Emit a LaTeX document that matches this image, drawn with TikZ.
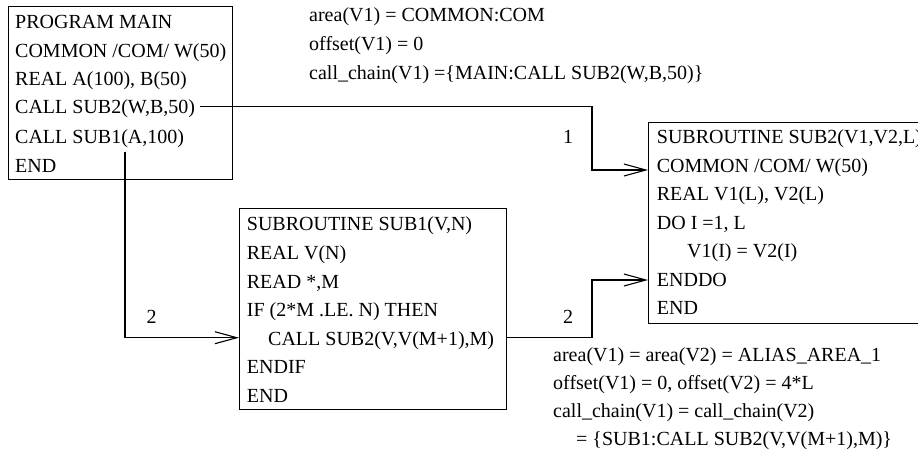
\documentclass[tikz,border=0pt]{standalone}
\usepackage{fontspec}
\setmainfont{Liberation Serif}
\usetikzlibrary{arrows.meta,calc}
\begin{document}
\begin{tikzpicture}[x=1pt,y=-1pt,
  txt/.style={anchor=base west, inner sep=0pt, font=\fontsize{20}{24}\selectfont},
  lbl/.style={inner sep=0pt, font=\fontsize{20}{24}\selectfont},
  codebox/.style={draw, line width=1.1pt, anchor=north west, inner sep=0pt},
  conn/.style={line width=1.1pt, -{Straight Barb[length=22pt,width=12pt,line width=1.1pt]}}]
\useasboundingbox (0,0) rectangle (918,450);
% boxes
\node[codebox, minimum width=224pt, minimum height=173pt] (main) at (8,6) {};
\node[codebox, minimum width=267pt, minimum height=201pt] (sub1) at (239,208.3) {};
\node[codebox, minimum width=300pt, minimum height=201pt] (sub2) at (648,121.7) {};
% main text
\node[txt] (m1) at (15,28) {PROGRAM MAIN};
\node[txt] (m2) at (15,57) {COMMON /COM/ W(50)};
\node[txt] (m3) at (15,85.5) {REAL A(100), B(50)};
\node[txt] (m4) at (15,113.5) {CALL SUB2(W,B,50)};
\node[txt] (m5) at (15,143) {CALL SUB1(A,100)};
\node[txt] (m6) at (15,172) {END};
% sub1 text
\node[txt] (a1) at (246.7,230) {SUBROUTINE SUB1(V,N)};
\node[txt] (a2) at (246.7,259.5) {REAL V(N)};
\node[txt] (a3) at (246.7,288) {READ *,M};
\node[txt] (a4) at (246.7,316.5) {IF (2*M .LE. N) THEN};
\node[txt] (a5) at (268,345) {CALL SUB2(V,V(M+1),M)};
\node[txt] (a6) at (246.7,373.5) {ENDIF};
\node[txt] (a7) at (246.7,402) {END};
% sub2 text
\node[txt] (b1) at (656.7,143.5) {SUBROUTINE SUB2(V1,V2,L)};
\node[txt] (b2) at (656.7,172) {COMMON /COM/ W(50)};
\node[txt] (b3) at (656.7,200.5) {REAL V1(L), V2(L)};
\node[txt] (b4) at (656.7,229) {DO I =1, L};
\node[txt] (b5) at (687,257.5) {V1(I) = V2(I)};
\node[txt] (b6) at (656.7,286) {ENDDO};
\node[txt] (b7) at (656.7,314.5) {END};
% annotations
\node[txt] (t1) at (309,21.5) {area(V1) = COMMON:COM};
\node[txt] (t2) at (309,50.5) {offset(V1) = 0};
\node[txt] (t3) at (309,79) {call\_chain(V1) =\{MAIN:CALL SUB2(W,B,50)\}};
\node[txt] (u1) at (553,361.5) {area(V1) = area(V2) = ALIAS\_AREA\_1};
\node[txt] (u2) at (553,389.5) {offset(V1) = 0, offset(V2) = 4*L};
\node[txt] (u3) at (553,417.5) {call\_chain(V1) = call\_chain(V2)};
\node[txt] (u4) at (576,445.5) {= \{SUB1:CALL SUB2(V,V(M+1),M)\}};
% labels
\node[lbl] (l1) at (568,137) {1};
\node[lbl] (l2) at (151.7,316.7) {2};
\node[lbl] (l3) at (568,316.7) {2};
% connector ends
\coordinate (c1s) at ($(m4.base east)+(5,-7)$);
\coordinate (c1e) at ($(sub2.north west)+(0,48.3)$);
\coordinate (c2s) at (125,151.7);
\coordinate (c2e) at ($(sub1.north west)+(0,129.4)$);
\coordinate (c3s) at ($(sub1.north east)+(0,129.4)$);
\coordinate (c3e) at ($(sub2.north west)+(0,158.3)$);
\draw[conn] (c1s) -| ([xshift=-56pt]c1e) -- (c1e);
\draw[conn] (c2s) |- (c2e);
\draw[conn] (c3s) -| ([xshift=-56pt]c3e) -- (c3e);
\end{tikzpicture}
\end{document}
